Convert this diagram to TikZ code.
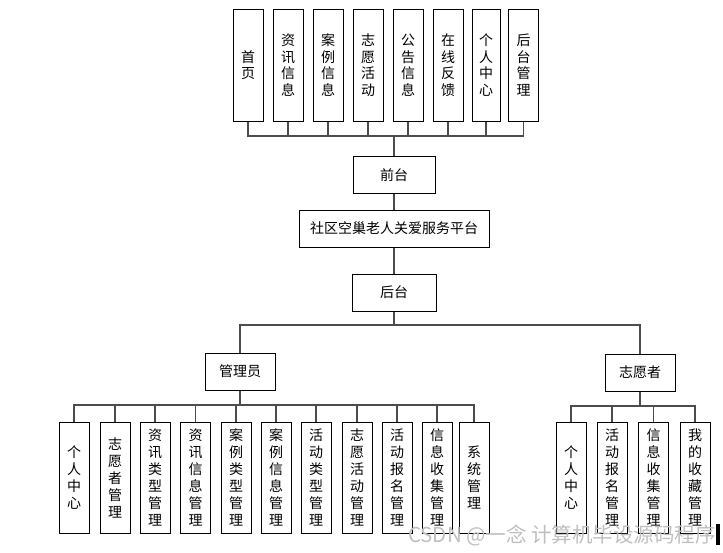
\documentclass[tikz,border=0pt]{standalone}
\usepackage{fontspec}
\setmainfont{Noto Sans CJK SC}
\begin{document}
\begin{tikzpicture}[x=1pt,y=-1pt,
  box/.style={draw=black, line width=1pt, inner sep=0pt, fill=white, align=center, font=\fontsize{14}{16.5}\selectfont},
  vbox/.style={box, minimum width=30pt, minimum height=112pt},
  vboxb/.style={box, minimum width=30pt, minimum height=111pt, font=\fontsize{14}{17}\selectfont},
  hbox/.style={box, minimum height=37pt},
  conn/.style={draw=black!70, line width=1.2pt}]
\useasboundingbox (0,0) rectangle (723,552);
% top row
\node[vbox] (t1) at (248,65) {首\\页};
\node[vbox] (t2) at (288,65) {资\\讯\\信\\息};
\node[vbox] (t3) at (328,65) {案\\例\\信\\息};
\node[vbox] (t4) at (368,65) {志\\愿\\活\\动};
\node[vbox] (t5) at (408,65) {公\\告\\信\\息};
\node[vbox] (t6) at (448,65) {在\\线\\反\\馈};
\node[vbox, minimum width=28pt] (t7) at (486,65) {个\\人\\中\\心};
\node[vbox] (t8) at (523.5,65) {后\\台\\管\\理};
% middle
\node[hbox, minimum width=82pt] (qt) at (394,175) {前台};
\node[hbox, minimum width=190pt] (pt) at (394,228.5) {社区空巢老人关爱服务平台};
\node[hbox, minimum width=84pt] (ht) at (394,292.5) {后台};
\node[hbox, minimum width=70pt] (gly) at (240,371.5) {管理员};
\node[hbox, minimum width=70pt] (zyz) at (640,372.5) {志愿者};
% bottom left
\node[vboxb] (a1) at (74,477.5) {个\\人\\中\\心};
\node[vboxb] (a2) at (115,477.5) {志\\愿\\者\\管\\理};
\node[vboxb] (a3) at (155,477.5) {资\\讯\\类\\型\\管\\理};
\node[vboxb] (a4) at (195.5,477.5) {资\\讯\\信\\息\\管\\理};
\node[vboxb] (a5) at (236,477.5) {案\\例\\类\\型\\管\\理};
\node[vboxb] (a6) at (276,477.5) {案\\例\\信\\息\\管\\理};
\node[vboxb] (a7) at (316,477.5) {活\\动\\类\\型\\管\\理};
\node[vboxb] (a8) at (357,477.5) {志\\愿\\活\\动\\管\\理};
\node[vboxb] (a9) at (397,477.5) {活\\动\\报\\名\\管\\理};
\node[vboxb] (a10) at (437,477.5) {信\\息\\收\\集\\管\\理};
\node[vboxb] (a11) at (474,477.5) {系\\统\\管\\理};
% bottom right
\node[vboxb] (b1) at (571,477.5) {个\\人\\中\\心};
\node[vboxb] (b2) at (612,477.5) {活\\动\\报\\名\\管\\理};
\node[vboxb] (b3) at (653.5,477.5) {信\\息\\收\\集\\管\\理};
\node[vboxb] (b4) at (695,477.5) {我\\的\\收\\藏\\管\\理};
% connectors
\coordinate (tb) at (394,136);
\draw[conn] (qt.north) -- (tb);
\foreach \n in {t1,t2,t3,t4,t5,t6,t7,t8} \draw[conn] (tb) -| (\n.south);
\draw[conn] (qt.south) -- (pt.north);
\draw[conn] (pt.south) -- (ht.north);
\coordinate (hb) at (394,325);
\draw[conn] (ht.south) -- (hb);
\draw[conn] (hb) -| (gly.north);
\draw[conn] (hb) -| (zyz.north);
\coordinate (gb) at (240,405);
\draw[conn] (gly.south) -- (gb);
\foreach \n in {a1,a2,a3,a4,a5,a6,a7,a8,a9,a10,a11} \draw[conn] (gb) -| (\n.north);
\coordinate (zb) at (640,406);
\draw[conn] (zyz.south) -- (zb);
\foreach \n in {b1,b2,b3,b4} \draw[conn] (zb) -| (\n.north);
% edge mark at right
\fill[black] (716,524) rectangle (719.5,545);
% watermark
\node[anchor=west, inner sep=0pt, text=gray!50, font=\fontsize{20.5}{20.5}\selectfont] (wm) at (408,535) {CSDN @一念 计算机毕设源码程序};
\end{tikzpicture}
\end{document}
